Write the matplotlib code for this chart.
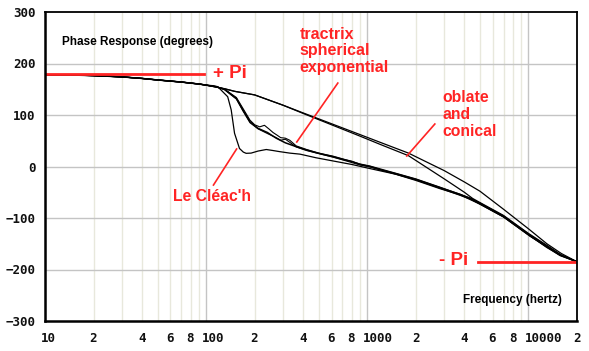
import numpy as np
import matplotlib
matplotlib.use("Agg")
import matplotlib.pyplot as plt
from matplotlib.transforms import ScaledTranslation

# shared low-frequency part (all horns overlap here)
freq_low = [10, 15, 20, 30, 40, 50, 70, 91, 100]
phase_low = [178, 177.5, 176.5, 174, 171, 168, 164, 160, 158]

# oblate and conical
freq_oblate = [130, 150, 200, 300, 400, 600, 900, 1200, 1800, 3000, 4000, 5000,
               7000, 10000, 13000, 16000, 20000]
phase_oblate = [151, 146, 139, 119, 104, 83, 62, 47, 26, -8, -30, -48,
                -83, -121, -150, -169, -185]
freq_conical = [130, 150, 200, 300, 400, 600, 900, 1200, 1800, 3000, 4000, 4500,
                5000, 7000, 10000, 13000, 16000, 20000]
phase_conical = [151, 146, 139, 119, 103, 81, 59, 43, 21, -24, -50, -62,
                 -70, -95, -130, -153, -172, -185]

# tractrix, spherical, exponential
freq_tractrix = [115, 130, 154, 169, 187, 210, 240, 272, 310, 362, 420, 480, 540,
                 614, 700, 800, 900, 1038, 1200, 1500, 2000, 2820, 3760, 4340, 5000,
                 7000, 10200, 13000, 15700, 20000]
phase_tractrix = [155, 150, 132, 110, 87, 74, 66, 55, 46, 38.5, 32, 27, 23,
                  19, 14, 10, 4, 0, -6, -14, -25, -41, -54, -62, -71.5,
                  -97, -134, -157, -172, -185]
freq_spherical = [115, 130, 154, 169, 187, 200, 215, 230, 245, 260, 275, 290, 310, 330,
                  362, 420, 500, 614, 700, 900, 1038, 1500, 2000, 2820, 4340, 7000, 10200,
                  15700, 20000]
phase_spherical = [155, 150, 134, 113, 90, 81, 77, 80, 73, 66, 61, 56, 55, 51,
                   40, 33, 26, 20, 15, 5, 1, -13, -24, -40, -61, -96, -133,
                   -171, -185]
freq_exponential = [115, 130, 154, 169, 187, 210, 240, 272, 290, 310, 330, 362,
                    420, 500, 614, 700, 900, 1038, 1500, 2000, 2820, 4340, 7000, 10200,
                    15700, 20000]
phase_exponential = [155, 149, 131, 108, 85, 73, 64, 56, 51, 53, 47, 38,
                     31, 25, 18, 13, 3, -1, -15, -26, -42, -63, -98, -135,
                     -172, -185]

# Le Cleac'h
freq_cleach = [110, 118, 136, 143, 150, 161, 170, 177, 190, 210, 236, 260, 284,
               330, 382, 480, 614, 800, 1038, 1500, 2000, 2820, 3760, 5000, 7000,
               10200, 15700, 20000]
phase_cleach = [157, 155, 135.5, 110, 64.5, 35, 28, 25.6, 26, 30, 33, 31, 29,
                26, 24, 17, 10.7, 4, -4, -15, -27, -43, -55, -73, -98,
                -135, -173, -185]

red = "#ff2424"

fig = plt.figure(figsize=(5.89, 3.51), dpi=100)
ax = fig.add_axes([45 / 589, 30 / 351, 532 / 589, 309 / 351])

ax.set_xscale("log")
ax.set_xlim(10, 20000)
ax.set_ylim(-300, 300)

# grid lines: decades darker, in-between lighter
for v in [10, 100, 1000, 10000]:
    ax.axvline(v, color="#c4c4c4", lw=1.0, zorder=0)
for v in [m * d for d in [10, 100, 1000, 10000] for m in range(2, 10) if m * d < 20000]:
    ax.axvline(v, color="#e8e8dc", lw=1.0, zorder=0)
for v in [-200, -100, 0, 100, 200]:
    ax.axhline(v, color="#c4c4c4", lw=1.0, zorder=0)

# curves
def full(f, p):
    return freq_low + f, phase_low + p

ax.plot(*full(freq_oblate, phase_oblate), color="black", lw=0.9)
ax.plot(*full(freq_conical, phase_conical), color="black", lw=0.9)
ax.plot(*full(freq_tractrix, phase_tractrix), color="black", lw=1.1)
ax.plot(*full(freq_spherical, phase_spherical), color="black", lw=0.8)
ax.plot(*full(freq_exponential, phase_exponential), color="black", lw=0.8)
ax.plot(*full(freq_cleach, phase_cleach), color="black", lw=0.9)

# +Pi / -Pi reference lines
ax.plot([10, 97], [180, 180], color=red, lw=2)
ax.plot([4850, 20000], [-186, -186], color=red, lw=2)

# pointers
ax.plot([656, 365], [162, 47.6], color=red, lw=1.2)
ax.plot([2624, 1758], [82.5, 20.4], color=red, lw=1.2)
ax.plot([154.5, 111], [34, -36], color=red, lw=1.2)

lbl = dict(color=red, fontweight="bold", family="Liberation Sans")
ax.text(110, 180, "+ Pi", fontsize=13.5, va="center", ha="left", **lbl)
ax.text(2775, -182, "- Pi", fontsize=13.5, va="center", ha="left", **lbl)
ax.text(381, 271, "tractrix\nspherical\nexponential", fontsize=11.5, va="top", ha="left",
        linespacing=1.12, **lbl)
ax.text(2930, 148, "oblate\nand\nconical", fontsize=11.3, va="top", ha="left",
        linespacing=1.15, **lbl)
ax.text(62, -58, "Le Cl\u00e9ac'h", fontsize=11.3, va="center", ha="left", **lbl)

ax.text(12.8, 242, "Phase Response (degrees)", fontsize=8.5, va="center", ha="left",
        fontweight="bold", family="Liberation Sans")
ax.text(3900, -260, "Frequency (hertz)", fontsize=8.5, va="center", ha="left",
        fontweight="bold", family="Liberation Sans")

# tick labels
xt = [10, 20, 40, 60, 80, 100, 200, 400, 600, 800, 1000, 2000, 4000, 6000, 8000, 10000, 20000]
xl = ["10", "2", "4", "6", "8", "100", "2", "4", "6", "8", "1000", "2", "4", "6", "8", "10000", "2"]
ax.set_xticks(xt)
ax.set_xticklabels(xl)
ax.set_xticks([], minor=True)
ax.set_yticks([-300, -200, -100, 0, 100, 200, 300])
ax.tick_params(which="both", length=0)
ax.tick_params(axis="y", pad=7)
ax.tick_params(axis="x", pad=8)
for t in ax.get_xticklabels() + ax.get_yticklabels():
    t.set_family("DejaVu Sans Mono")
    t.set_fontweight("bold")
    t.set_fontsize(9)
    t.set_color("#111111")
shift = ScaledTranslation(-4 / 100, 0, fig.dpi_scale_trans)
for t in ax.get_xticklabels():
    t.set_horizontalalignment("left")
    t.set_transform(t.get_transform() + shift)

for s in ax.spines.values():
    s.set_color("black")
    s.set_linewidth(1.3)
ax.spines["left"].set_linewidth(1.8)
ax.spines["bottom"].set_linewidth(1.8)

fig.savefig("out.png", dpi=100)
